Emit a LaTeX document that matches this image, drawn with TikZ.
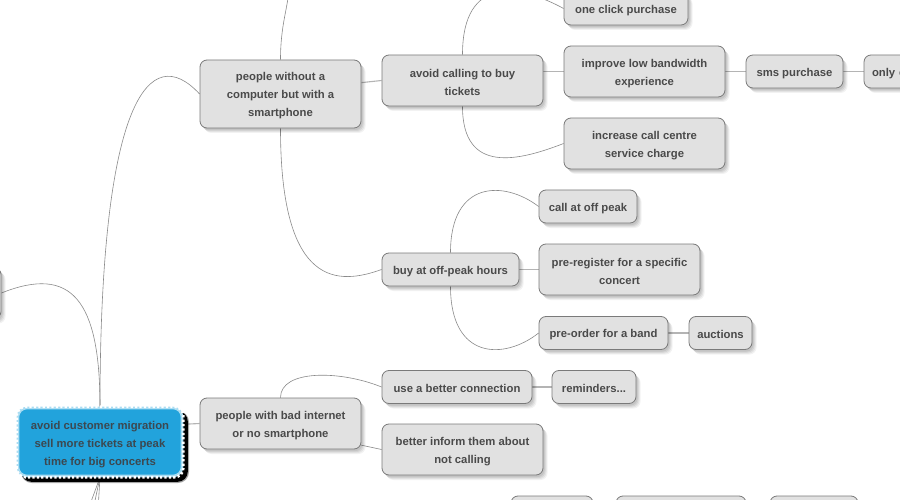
\documentclass[tikz,border=0pt]{standalone}
\usepackage{fontspec}
\setmainfont{Liberation Sans}
\usetikzlibrary{calc}
\definecolor{nodefill}{HTML}{E1E1E1}
\definecolor{nodeborder}{HTML}{7A7A7A}
\definecolor{txt}{HTML}{4A4A4A}
\definecolor{curvec}{HTML}{8A8A8A}
\definecolor{straightc}{HTML}{B4B4B4}
\definecolor{rootfill}{HTML}{22A3DC}
\definecolor{rootdash}{HTML}{A9DCF2}
\definecolor{roottxt}{HTML}{3C4850}
\newcommand{\fs}{\rule{0pt}{12pt}}
\newcommand{\fsroot}{\rule{0pt}{14pt}}
\pgfdeclarelayer{bg}
\pgfsetlayers{bg,main}
\tikzset{
  plainnode/.style={draw=nodeborder, line width=0.8pt, fill=nodefill, rounded corners=7pt,
    inner sep=0pt, align=center, text=txt, font=\fontsize{11.3}{18}\selectfont\bfseries},
  mmnode/.style={plainnode,
    preaction={fill=black, opacity=0.07, transform canvas={xshift=1.5pt,yshift=-2pt}},
    preaction={fill=black, opacity=0.07, transform canvas={xshift=2.5pt,yshift=-3pt}},
    preaction={fill=black, opacity=0.06, transform canvas={xshift=3.5pt,yshift=-4pt}},
    preaction={fill=black, opacity=0.05, transform canvas={xshift=4.5pt,yshift=-5pt}}},
  rootnode/.style={draw=rootdash, line width=2.6pt, fill=rootfill, rounded corners=9pt,
    inner sep=0pt, align=center, text=roottxt, font=\fontsize{11.3}{18}\selectfont\bfseries,
    preaction={fill=black, draw=black, line width=4pt, opacity=0.35, transform canvas={xshift=5pt,yshift=-5pt}},
    preaction={fill=black, draw=black, line width=2.6pt, transform canvas={xshift=4.5pt,yshift=-4.5pt}}},
  curvelink/.style={draw=curvec, line width=0.6pt},
  straightlink/.style={draw=straightc, line width=1.1pt},
}
\begin{document}
\begin{tikzpicture}[x=1pt,y=1pt]
\useasboundingbox (0,0) rectangle (900,-500);
\clip (0,0) rectangle (900,-500);
\begin{pgfonlayer}{bg}
\fill[white] (0,0) rectangle (900,-500);
\end{pgfonlayer}

% nodes
\node[mmnode, minimum width=161pt, minimum height=51pt] (left) at (-79.5,-293) {};
\node[rootnode, minimum width=164pt, minimum height=68pt] (root) at (100,-442)
  {\fsroot avoid customer migration\\sell more tickets at peak\\time for big concerts};
\draw[white, line width=2.6pt, dash pattern=on 2.2pt off 2.2pt, rounded corners=9pt]
  (root.south west) rectangle (root.north east);

\node[mmnode, minimum width=161pt, minimum height=68pt] (n1) at (280.5,-94)
  {\fs people without a\\computer but with a\\smartphone};
\node[mmnode, minimum width=161pt, minimum height=51pt] (n2) at (462.5,-80.5)
  {\fs avoid calling to buy\\tickets};
\node[mmnode, minimum width=124pt, minimum height=33pt] (n3) at (626,-8.5)
  {\fs one click purchase};
\node[mmnode, minimum width=161pt, minimum height=51pt] (n4) at (644.5,-71.5)
  {\fs improve low bandwidth\\experience};
\node[mmnode, minimum width=97pt, minimum height=33pt] (n5) at (794.5,-71.5)
  {\fs sms purchase};
\node[mmnode, minimum width=110pt, minimum height=33pt, text width=94pt, align=left] (n6) at (919,-71.5)
  {\fs only c};
\node[mmnode, minimum width=161pt, minimum height=51pt] (n7) at (644.5,-143.5)
  {\fs increase call centre\\service charge};
\node[mmnode, minimum width=98pt, minimum height=33pt] (n8) at (588,-206.5)
  {\fs call at off peak};
\node[mmnode, minimum width=137pt, minimum height=33pt] (n9) at (450.5,-269.5)
  {\fs buy at off-peak hours};
\node[mmnode, minimum width=161pt, minimum height=51pt] (n10) at (619.5,-269.5)
  {\fs pre-register for a specific\\concert};
\node[mmnode, minimum width=129pt, minimum height=33pt] (n11) at (603.5,-333)
  {\fs pre-order for a band};
\node[mmnode, minimum width=63pt, minimum height=33pt] (n12) at (720.5,-333)
  {\fs auctions};
\node[mmnode, minimum width=161pt, minimum height=51pt] (n13) at (280.5,-423.5)
  {\fs people with bad internet\\or no smartphone};
\node[mmnode, minimum width=150pt, minimum height=33pt] (n14) at (457,-387)
  {\fs use a better connection};
\node[mmnode, minimum width=84pt, minimum height=33pt] (n15) at (594,-387)
  {\fs reminders...};
\node[mmnode, minimum width=161pt, minimum height=51pt] (n16) at (462.5,-449.5)
  {\fs better inform them about\\not calling};
\node[mmnode, minimum width=82pt, minimum height=33pt] (b1) at (552,-512.5) {};
\node[mmnode, minimum width=130pt, minimum height=33pt] (b2) at (681,-512.5) {};
\node[mmnode, minimum width=88pt, minimum height=33pt] (b3) at (814,-512.5) {};

\coordinate (up1) at (289,12);
\coordinate (dn1) at (88,-510);
\coordinate (dn2) at (93,-510);
\coordinate (dn3) at (98,-510);

% connectors
\begin{pgfonlayer}{bg}
\draw[curvelink] (root.north) .. controls +(0,107) and +(70,28) .. (left.east);
\draw[curvelink] (root.north) .. controls +(0,307) and +(-50,54) .. (n1.west);
\draw[curvelink] (n1.north) .. controls +(0,35) and +(-1,-20) .. (up1);
\draw[curvelink] (n1.south) .. controls +(0,-162) and +(-42,-15) .. (n9.west);
\draw[curvelink] (n2.north) .. controls +(0,80) and +(-44,24) .. (n3.west);
\draw[curvelink] (n2.south) .. controls +(0,-69) and +(-44,-17) .. (n7.west);
\draw[curvelink] (n9.north) .. controls +(0,73) and +(-34,26) .. (n8.west);
\draw[curvelink] (n9.south) .. controls +(0,-74) and +(-34,-27) .. (n11.west);
\draw[curvelink] (n13.north) .. controls +(0,28) and +(-42,17) .. (n14.west);
\draw[curvelink] (n13.-15) -- (n16.west);
\draw[curvelink] (root.south) -- (dn1);
\draw[curvelink] (root.south) -- (dn2);
\draw[curvelink] (root.south) -- (dn3);

\draw[straightlink] (n1.8) -- (n2.west);
\draw[straightlink] (n2.east |- n4.west) -- (n4.west);
\draw[straightlink] (n4.east) -- (n5.west);
\draw[straightlink] (n5.east) -- (n6.west);
\draw[straightlink] (n9.east) -- (n10.west);
\draw[straightlink] (n11.east) -- (n12.west);
\draw[straightlink] (n14.east) -- (n15.west);
\draw[straightlink] (root.12) -- (n13.west);
\end{pgfonlayer}
\end{tikzpicture}
\end{document}
